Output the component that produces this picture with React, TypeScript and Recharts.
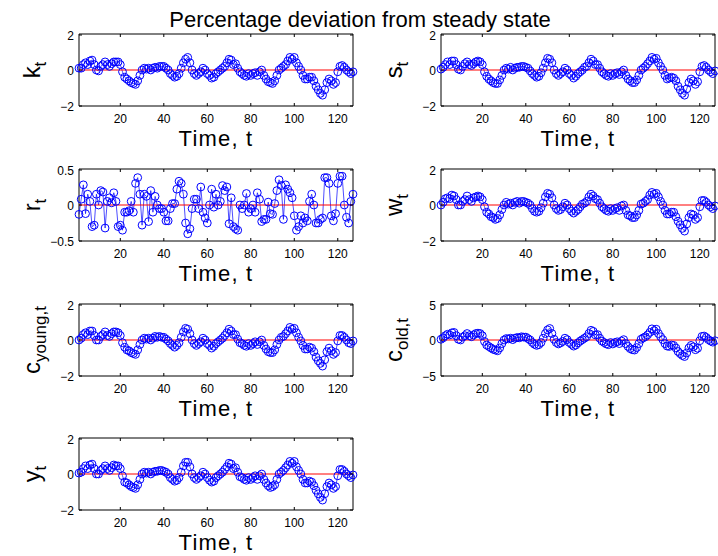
import React from "react";
import { LineChart, Line, XAxis, YAxis, ReferenceLine, ReferenceArea } from "recharts";

const FONT = '"Liberation Sans", Arial, Helvetica, sans-serif';

// time index 1..127
const timeSteps = Array.from({ length: 127 }, (_, i) => i + 1);
const timeTicks = [20, 40, 60, 80, 100, 120];

const kT = [0.1, 0.1, 0.3, 0.4, 0.3, 0.5, 0.55, 0.3, 0.0, -0.05, 0.2, 0.3, 0.45, 0.3, 0.2, 0.35, 0.45, 0.45, 0.45, 0.3, -0.1, -0.4, -0.5, -0.6, -0.7, -0.75, -0.8, -0.6, -0.3, 0.0, 0.1, 0.05, 0.1, 0.0, 0.1, 0.15, 0.1, 0.2, 0.2, 0.2, 0.1, 0.0, -0.2, -0.3, -0.4, -0.35, -0.2, 0.1, 0.4, 0.6, 0.7, 0.4, 0.0, -0.2, -0.3, -0.2, -0.1, 0.1, 0.0, -0.2, -0.3, -0.45, -0.4, -0.2, -0.1, 0.0, 0.1, 0.2, 0.4, 0.6, 0.55, 0.3, 0.35, 0.1, -0.1, -0.2, -0.3, -0.35, -0.2, -0.3, -0.2, -0.15, -0.3, -0.1, 0.0, -0.3, -0.5, -0.65, -0.7, -0.75, -0.6, -0.3, 0.0, 0.1, 0.2, 0.3, 0.5, 0.7, 0.6, 0.7, 0.4, 0.2, 0.0, -0.3, -0.5, -0.5, -0.4, -0.4, -0.6, -0.9, -1.1, -1.3, -1.4, -1.1, -0.7, -0.5, -0.6, -0.8, -0.7, -0.1, 0.2, 0.25, 0.15, 0.0, -0.1, -0.2, -0.1];

const sT = [0.05, 0.15, 0.3, 0.45, 0.3, 0.5, 0.5, 0.3, 0.05, 0.0, 0.2, 0.35, 0.45, 0.3, 0.25, 0.35, 0.45, 0.5, 0.45, 0.3, -0.1, -0.35, -0.5, -0.6, -0.7, -0.75, -0.75, -0.55, -0.3, 0.0, 0.1, 0.05, 0.15, 0.0, 0.1, 0.15, 0.15, 0.2, 0.2, 0.15, 0.1, -0.05, -0.2, -0.3, -0.4, -0.35, -0.15, 0.1, 0.4, 0.65, 0.6, 0.4, 0.0, -0.2, -0.3, -0.2, -0.1, 0.1, 0.0, -0.2, -0.3, -0.45, -0.35, -0.2, -0.1, 0.0, 0.15, 0.2, 0.4, 0.6, 0.5, 0.3, 0.3, 0.1, -0.1, -0.2, -0.3, -0.35, -0.2, -0.3, -0.2, -0.15, -0.25, -0.1, 0.0, -0.3, -0.5, -0.6, -0.7, -0.7, -0.55, -0.3, 0.0, 0.1, 0.2, 0.35, 0.5, 0.7, 0.6, 0.65, 0.4, 0.2, 0.0, -0.3, -0.5, -0.45, -0.4, -0.45, -0.6, -0.9, -1.1, -1.3, -1.4, -1.05, -0.7, -0.5, -0.6, -0.8, -0.65, -0.1, 0.2, 0.25, 0.15, 0.0, -0.1, -0.2, -0.05];

const rT = [-0.13, 0.08, 0.28, -0.12, 0.15, 0.05, -0.3, -0.28, 0.15, 0.0, 0.2, 0.18, -0.32, 0.05, 0.1, 0.03, 0.17, 0.05, -0.3, -0.28, -0.35, -0.1, -0.1, -0.08, 0.05, -0.1, 0.3, 0.38, 0.15, -0.28, 0.15, 0.12, -0.23, 0.2, -0.1, 0.12, 0.0, -0.05, -0.05, -0.1, -0.22, -0.22, -0.05, 0.02, 0.02, 0.22, 0.33, 0.3, 0.15, -0.25, -0.4, -0.33, -0.05, 0.08, 0.08, -0.05, 0.25, -0.1, -0.18, -0.25, 0.0, 0.22, -0.03, 0.15, 0.0, 0.05, 0.27, 0.2, 0.25, -0.26, 0.1, -0.3, -0.33, -0.35, 0.0, -0.05, 0.0, 0.16, -0.1, -0.05, 0.0, -0.1, 0.17, 0.08, -0.23, -0.2, -0.2, 0.04, -0.12, -0.13, 0.02, 0.2, 0.35, 0.27, -0.2, 0.28, 0.22, 0.17, 0.1, -0.15, -0.35, -0.3, -0.15, -0.25, -0.18, -0.22, 0.05, 0.15, 0.0, -0.25, -0.25, -0.2, -0.18, 0.38, 0.38, 0.3, -0.15, -0.22, -0.12, 0.3, 0.4, 0.4, 0.0, -0.17, -0.25, 0.05, 0.15];

const wT = [0.0, 0.15, 0.35, 0.4, 0.35, 0.55, 0.5, 0.3, 0.0, 0.0, 0.2, 0.3, 0.5, 0.3, 0.2, 0.4, 0.45, 0.5, 0.45, 0.3, -0.1, -0.4, -0.5, -0.65, -0.7, -0.8, -0.75, -0.55, -0.25, 0.0, 0.15, 0.05, 0.1, 0.0, 0.15, 0.2, 0.1, 0.2, 0.2, 0.15, 0.1, 0.0, -0.2, -0.35, -0.4, -0.35, -0.15, 0.1, 0.45, 0.65, 0.6, 0.4, 0.0, -0.2, -0.3, -0.25, -0.1, 0.1, 0.0, -0.2, -0.35, -0.45, -0.35, -0.25, -0.1, 0.05, 0.1, 0.2, 0.45, 0.6, 0.5, 0.35, 0.3, 0.1, -0.1, -0.2, -0.3, -0.35, -0.2, -0.3, -0.2, -0.15, -0.3, -0.05, 0.0, -0.3, -0.55, -0.6, -0.7, -0.7, -0.55, -0.3, 0.05, 0.1, 0.2, 0.3, 0.55, 0.7, 0.6, 0.65, 0.45, 0.2, 0.0, -0.3, -0.5, -0.5, -0.4, -0.4, -0.65, -0.9, -1.1, -1.3, -1.45, -1.05, -0.7, -0.5, -0.55, -0.8, -0.7, -0.1, 0.25, 0.25, 0.15, 0.0, -0.1, -0.2, -0.05];

const cYoungT = [0.0, 0.1, 0.3, 0.4, 0.3, 0.5, 0.5, 0.25, 0.0, 0.0, 0.2, 0.3, 0.45, 0.25, 0.2, 0.35, 0.45, 0.45, 0.4, 0.25, -0.15, -0.4, -0.55, -0.6, -0.7, -0.75, -0.8, -0.55, -0.25, 0.0, 0.1, 0.05, 0.1, 0.0, 0.1, 0.2, 0.15, 0.2, 0.15, 0.15, 0.05, -0.05, -0.2, -0.3, -0.4, -0.3, -0.15, 0.15, 0.45, 0.65, 0.6, 0.35, 0.0, -0.2, -0.3, -0.2, -0.1, 0.1, 0.0, -0.2, -0.3, -0.45, -0.35, -0.2, -0.1, 0.0, 0.1, 0.25, 0.4, 0.6, 0.5, 0.3, 0.3, 0.05, -0.15, -0.2, -0.3, -0.35, -0.2, -0.3, -0.2, -0.1, -0.25, -0.1, 0.0, -0.3, -0.5, -0.65, -0.7, -0.7, -0.55, -0.25, 0.0, 0.15, 0.2, 0.35, 0.5, 0.7, 0.6, 0.65, 0.4, 0.15, -0.05, -0.3, -0.5, -0.5, -0.4, -0.45, -0.65, -0.95, -1.15, -1.3, -1.45, -1.1, -0.65, -0.45, -0.6, -0.8, -0.7, -0.05, 0.25, 0.25, 0.15, 0.0, -0.15, -0.2, -0.05];

const cOldT = [0.1, 0.3, 0.6, 0.8, 0.7, 1.0, 1.05, 0.6, 0.1, 0.0, 0.4, 0.6, 0.9, 0.6, 0.45, 0.7, 0.9, 0.95, 0.9, 0.6, -0.2, -0.7, -0.9, -1.1, -1.3, -1.4, -1.5, -1.1, -0.5, 0.0, 0.2, 0.15, 0.25, 0.05, 0.25, 0.35, 0.3, 0.45, 0.4, 0.4, 0.2, 0.0, -0.35, -0.6, -0.75, -0.65, -0.35, 0.25, 0.9, 1.4, 1.6, 0.9, 0.1, -0.35, -0.55, -0.4, -0.2, 0.25, 0.05, -0.35, -0.6, -0.85, -0.7, -0.4, -0.15, 0.05, 0.25, 0.45, 0.9, 1.35, 1.2, 0.7, 0.75, 0.25, -0.15, -0.35, -0.55, -0.65, -0.35, -0.55, -0.35, -0.25, -0.5, -0.15, 0.05, -0.5, -0.9, -1.2, -1.35, -1.4, -1.05, -0.5, 0.1, 0.3, 0.45, 0.7, 1.05, 1.55, 1.3, 1.5, 0.9, 0.45, 0.05, -0.5, -0.85, -0.9, -0.7, -0.75, -1.1, -1.6, -1.9, -2.15, -2.3, -1.8, -1.1, -0.75, -0.95, -1.35, -1.15, -0.1, 0.5, 0.55, 0.35, 0.05, -0.15, -0.3, -0.1];

const yT = [0.05, 0.1, 0.3, 0.45, 0.3, 0.5, 0.55, 0.3, 0.0, 0.0, 0.2, 0.3, 0.45, 0.3, 0.2, 0.35, 0.5, 0.45, 0.45, 0.3, -0.1, -0.45, -0.5, -0.6, -0.7, -0.75, -0.8, -0.6, -0.3, 0.0, 0.1, 0.05, 0.1, 0.0, 0.1, 0.15, 0.15, 0.2, 0.2, 0.15, 0.1, 0.0, -0.2, -0.3, -0.4, -0.35, -0.2, 0.1, 0.45, 0.65, 0.65, 0.4, 0.0, -0.2, -0.3, -0.2, -0.1, 0.1, 0.0, -0.2, -0.35, -0.45, -0.4, -0.2, -0.1, 0.0, 0.1, 0.25, 0.4, 0.6, 0.55, 0.3, 0.35, 0.1, -0.15, -0.2, -0.3, -0.35, -0.2, -0.3, -0.2, -0.1, -0.3, -0.1, 0.0, -0.3, -0.5, -0.65, -0.75, -0.7, -0.6, -0.3, 0.0, 0.1, 0.2, 0.35, 0.5, 0.7, 0.6, 0.7, 0.4, 0.2, 0.0, -0.3, -0.5, -0.5, -0.4, -0.45, -0.65, -0.9, -1.1, -1.3, -1.45, -1.1, -0.7, -0.5, -0.6, -0.8, -0.7, -0.1, 0.25, 0.25, 0.15, 0.0, -0.1, -0.2, -0.05];

const PLOT_W = 274;
const PLOT_H = 72;
// outer margin around the plot box (axes take 1px each, see below)
const M = { top: 8, right: 8, bottom: 26, left: 34 };

const fmt = (v: number) => (v < 0 ? "\u2212" + Math.abs(v) : String(v));

const XTick = (props: any) => {
  const { x, y, payload } = props;
  return (
    <g>
      <line x1={x} x2={x} y1={y} y2={y - 3} stroke="#000" strokeWidth={1} />
      <line x1={x} x2={x} y1={y - PLOT_H} y2={y - PLOT_H + 3} stroke="#000" strokeWidth={1} />
      <text x={x} y={y + 17} textAnchor="middle" fontSize={12} fontFamily={FONT} fill="#000">
        {payload.value}
      </text>
    </g>
  );
};

const YTick = (props: any) => {
  const { x, y, payload } = props;
  return (
    <g>
      <line x1={x} x2={x + 3} y1={y} y2={y} stroke="#000" strokeWidth={1} />
      <line x1={x + PLOT_W} x2={x + PLOT_W - 3} y1={y} y2={y} stroke="#000" strokeWidth={1} />
      <text x={x - 5} y={y + 4.5} textAnchor="end" fontSize={12} fontFamily={FONT} fill="#000">
        {fmt(payload.value)}
      </text>
    </g>
  );
};

interface PanelProps {
  left: number;
  top: number;
  series: number[];
  domain: [number, number];
  ticks: number[];
  name: string;
  sub: string;
}

const Panel: React.FC<PanelProps> = ({ left, top, series, domain, ticks, name, sub }) => {
  const rows = timeSteps.map((t, i) => ({ t, v: series[i] }));
  const cy = top + PLOT_H / 2;
  return (
    <>
      <div style={{ position: "absolute", left: left - M.left, top: top - M.top }}>
        <LineChart
          width={PLOT_W + M.left + M.right}
          height={PLOT_H + M.top + M.bottom}
          data={rows}
          margin={{ top: M.top, right: M.right, bottom: M.bottom - 1, left: M.left - 1 }}
        >
          <XAxis
            dataKey="t"
            type="number"
            domain={[1, 127]}
            ticks={timeTicks}
            tick={(p: any) => <XTick {...p} />}
            tickSize={0}
            tickMargin={0}
            tickLine={false}
            axisLine={false}
            height={1}
          />
          <YAxis
            type="number"
            domain={domain}
            ticks={ticks}
            tick={(p: any) => <YTick {...p} />}
            tickSize={0}
            tickMargin={0}
            tickLine={false}
            axisLine={false}
            width={1}
          />
          <ReferenceArea
            x1={1}
            x2={127}
            y1={domain[0]}
            y2={domain[1]}
            fill="none"
            stroke="#000"
            strokeWidth={1}
          />
          <Line
            type="linear"
            dataKey="v"
            stroke="#0000ff"
            strokeWidth={0.7}
            dot={{ r: 3.9, fill: "none", stroke: "#0000ff", strokeWidth: 1 }}
            isAnimationActive={false}
          />
          <ReferenceLine y={0} stroke="#ff0000" strokeWidth={1} />
        </LineChart>
      </div>
      <svg
        width={718}
        height={556}
        style={{ position: "absolute", left: 0, top: 0, pointerEvents: "none" }}
      >
        <text
          transform={`translate(${left - 39}, ${cy}) rotate(-90)`}
          textAnchor="middle"
          fontSize={24}
          fontFamily={FONT}
          fill="#000"
        >
          {name}
          <tspan fontSize={17} dy={6}>
            {sub}
          </tspan>
        </text>
        <text
          x={left + PLOT_W / 2}
          y={top + PLOT_H + 40}
          textAnchor="middle"
          fontSize={22}
          letterSpacing={1.2}
          fontFamily={FONT}
          fill="#000"
        >
          Time, t
        </text>
      </svg>
    </>
  );
};

const LEFT_COL = 79;
const RIGHT_COL = 441;
const ROWS = [34, 169, 304, 438];

export default function App() {
  return (
    <div
      style={{
        position: "absolute",
        left: 0,
        top: 0,
        width: 718,
        height: 556,
        background: "#fff",
        overflow: "hidden",
        fontFamily: FONT,
      }}
    >
      <svg width={718} height={556} style={{ position: "absolute", left: 0, top: 0 }}>
        <text x={360} y={27} textAnchor="middle" fontSize={22} fontFamily={FONT} fill="#000">
          Percentage deviation from steady state
        </text>
      </svg>
      <Panel left={LEFT_COL} top={ROWS[0]} series={kT} domain={[-2, 2]} ticks={[-2, 0, 2]} name="k" sub="t" />
      <Panel left={RIGHT_COL} top={ROWS[0]} series={sT} domain={[-2, 2]} ticks={[-2, 0, 2]} name="s" sub="t" />
      <Panel left={LEFT_COL} top={ROWS[1]} series={rT} domain={[-0.5, 0.5]} ticks={[-0.5, 0, 0.5]} name="r" sub="t" />
      <Panel left={RIGHT_COL} top={ROWS[1]} series={wT} domain={[-2, 2]} ticks={[-2, 0, 2]} name="w" sub="t" />
      <Panel left={LEFT_COL} top={ROWS[2]} series={cYoungT} domain={[-2, 2]} ticks={[-2, 0, 2]} name="c" sub="young,t" />
      <Panel left={RIGHT_COL} top={ROWS[2]} series={cOldT} domain={[-5, 5]} ticks={[-5, 0, 5]} name="c" sub="old,t" />
      <Panel left={LEFT_COL} top={ROWS[3]} series={yT} domain={[-2, 2]} ticks={[-2, 0, 2]} name="y" sub="t" />
    </div>
  );
}
